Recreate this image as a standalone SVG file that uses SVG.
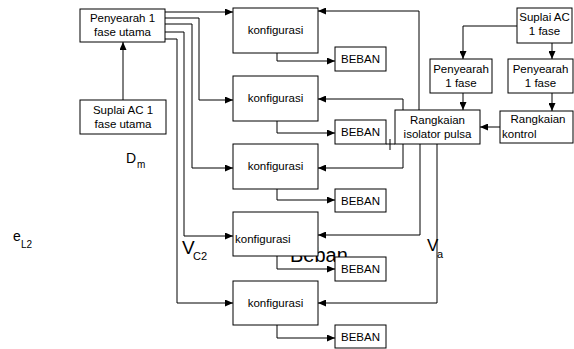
<svg xmlns="http://www.w3.org/2000/svg" width="574" height="349" viewBox="0 0 574 349">
<style>
.b{fill:#fff;stroke:#000;stroke-width:1}
.t{font-family:"Liberation Sans",Arial,sans-serif;font-size:11.5px;fill:#000;text-anchor:middle}
.l{font-family:"Liberation Sans",Arial,sans-serif;fill:#000}
.c path{fill:none;stroke:#000;stroke-width:1}
</style>
<defs>
<marker id="a" markerUnits="userSpaceOnUse" markerWidth="8" markerHeight="7" refX="8" refY="3.5" orient="auto">
<path d="M0,0 L8,3.5 L0,7 z" fill="#000"/>
</marker>
</defs>
<rect width="574" height="349" fill="#fff"/>
<g id="labels">
<text class="l" x="126" y="163" font-size="14">D</text>
<text class="l" x="137" y="168" font-size="10">m</text>
<text class="l" x="13" y="241" font-size="14">e</text>
<text class="l" x="21" y="248" font-size="10">L2</text>
<text class="l" x="182" y="254" font-size="19">V</text>
<text class="l" x="193" y="260" font-size="11">C2</text>
<text class="l" x="290" y="262" font-size="20">Beban</text>
<text class="l" x="427" y="251" font-size="17">V</text>
<text class="l" x="437" y="258" font-size="11">a</text>
</g>
<g class="c" id="connectors">
<path d="M123,100 V42" marker-end="url(#a)"/>
<path d="M165,12 H233" marker-end="url(#a)"/>
<path d="M165,18 H199 V100 H233" marker-end="url(#a)"/>
<path d="M165,24 H192 V168 H233" marker-end="url(#a)"/>
<path d="M165,32 H184 V236 H233" marker-end="url(#a)"/>
<path d="M165,39 H177 V303 H233" marker-end="url(#a)"/>
<path d="M277,53 V61 H335" marker-end="url(#a)"/>
<path d="M277,121 V133 H335" marker-end="url(#a)"/>
<path d="M277,189 V200 H335" marker-end="url(#a)"/>
<path d="M277,256 V269 H335" marker-end="url(#a)"/>
<path d="M277,325 V338 H335" marker-end="url(#a)"/>
<path d="M419,110 V11 H318" marker-end="url(#a)"/>
<path d="M403,110 V99 H318" marker-end="url(#a)"/>
<path d="M403,144 V168 H318" marker-end="url(#a)"/>
<path d="M420,144 V235 H318" marker-end="url(#a)"/>
<path d="M437,144 V303 H318" marker-end="url(#a)"/>
<path d="M517,26 H463 V59" marker-end="url(#a)"/>
<path d="M552,43 V59" marker-end="url(#a)"/>
<path d="M463,93 V110" marker-end="url(#a)"/>
<path d="M552,93 V111" marker-end="url(#a)"/>
<path d="M500,127 H480" marker-end="url(#a)"/>
<path d="M386,144 H395 M390,139 V150"/>
</g>
<g id="penyearah-utama"><rect class="b" x="80" y="9" width="85" height="33"/><text class="t" x="122.5" y="22">Penyearah 1</text><text class="t" x="122.5" y="36">fase utama</text></g>
<g id="suplai-utama"><rect class="b" x="80" y="100" width="86" height="34"/><text class="t" x="123" y="114">Suplai AC 1</text><text class="t" x="123" y="128">fase utama</text></g>
<g id="konfig1"><rect class="b" x="233" y="8" width="85" height="45"/><text class="t" x="275.5" y="34">konfigurasi</text></g>
<g id="konfig2"><rect class="b" x="233" y="76" width="85" height="45"/><text class="t" x="275.5" y="102">konfigurasi</text></g>
<g id="konfig3"><rect class="b" x="233" y="144" width="85" height="45"/><text class="t" x="275.5" y="170">konfigurasi</text></g>
<g id="konfig4"><rect class="b" x="233" y="212" width="85" height="44"/><text class="t" x="235" y="243" style="text-anchor:start">konfigurasi</text></g>
<g id="konfig5"><rect class="b" x="233" y="281" width="85" height="44"/><text class="t" x="275.5" y="307">konfigurasi</text></g>
<g id="beban1"><rect class="b" x="335" y="47" width="51" height="24"/><text class="t" x="360.5" y="63">BEBAN</text></g>
<g id="beban2"><rect class="b" x="335" y="120" width="51" height="24"/><text class="t" x="360.5" y="136">BEBAN</text></g>
<g id="beban3"><rect class="b" x="335" y="189" width="51" height="23"/><text class="t" x="360.5" y="204.5">BEBAN</text></g>
<g id="beban4"><rect class="b" x="335" y="257" width="51" height="24"/><text class="t" x="360.5" y="273">BEBAN</text></g>
<g id="beban5"><rect class="b" x="335" y="325" width="51" height="23"/><text class="t" x="360.5" y="340.5">BEBAN</text></g>
<g id="isolator"><rect class="b" x="395" y="110" width="85" height="34"/><text class="t" x="437.5" y="124">Rangkaian</text><text class="t" x="437.5" y="138">isolator pulsa</text></g>
<g id="kontrol"><rect class="b" x="500" y="111" width="73" height="32"/><text class="t" x="538" y="123">Rangkaian</text><text class="t" x="502" y="138" style="text-anchor:start">kontrol</text></g>
<g id="penyearah-a"><rect class="b" x="430" y="59" width="62" height="34"/><text class="t" x="461" y="73">Penyearah</text><text class="t" x="461" y="87">1 fase</text></g>
<g id="penyearah-b"><rect class="b" x="508" y="59" width="65" height="34"/><text class="t" x="540.5" y="73">Penyearah</text><text class="t" x="540.5" y="87">1 fase</text></g>
<g id="suplai-ac"><rect class="b" x="517" y="8" width="55" height="35"/><text class="t" x="544.5" y="21">Suplai AC</text><text class="t" x="544.5" y="35">1 fase</text></g>
</svg>
